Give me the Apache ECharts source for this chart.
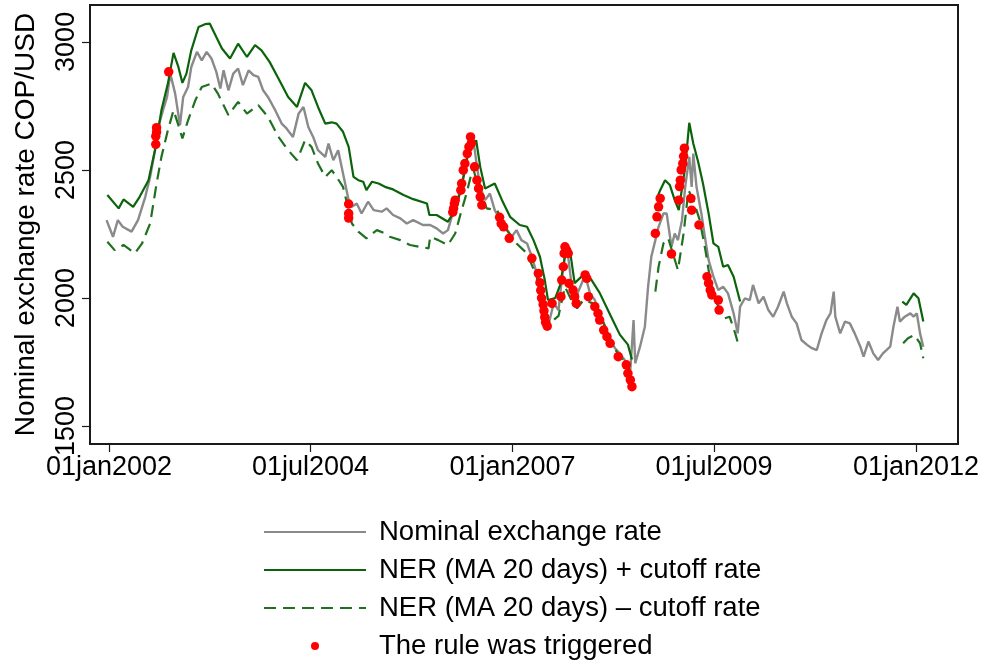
<!DOCTYPE html>
<html>
<head>
<meta charset="utf-8">
<script src="https://cdn.jsdelivr.net/npm/echarts@6/dist/echarts.min.js"></script>
<style>
html,body{margin:0;padding:0;background:#fff;}
#chart{width:984px;height:663px;}
</style>
</head>
<body>
<div id="chart"></div>
<script>
// Dates are decimal years
const nerDates = [2001.97,2002.05,2002.11,2002.17,2002.28,2002.36,2002.45,2002.51,2002.57,2002.61,2002.67,2002.72,2002.76,2002.82,2002.88,2002.92,2002.98,2003.02,2003.09,2003.15,2003.21,2003.27,2003.33,2003.38,2003.42,2003.48,2003.54,2003.60,2003.66,2003.73,2003.79,2003.85,2003.91,2003.97,2004.06,2004.14,2004.20,2004.28,2004.35,2004.41,2004.47,2004.53,2004.59,2004.68,2004.72,2004.78,2004.84,2004.90,2004.97,2005.01,2005.07,2005.13,2005.21,2005.28,2005.38,2005.44,2005.52,2005.61,2005.69,2005.77,2005.89,2005.98,2006.06,2006.14,2006.20,2006.27,2006.33,2006.39,2006.43,2006.47,2006.51,2006.56,2006.60,2006.66,2006.72,2006.78,2006.85,2006.91,2006.99,2007.05,2007.11,2007.18,2007.24,2007.30,2007.36,2007.40,2007.44,2007.51,2007.57,2007.61,2007.65,2007.69,2007.73,2007.77,2007.84,2007.90,2007.96,2008.02,2008.08,2008.15,2008.21,2008.27,2008.33,2008.39,2008.46,2008.50,2008.52,2008.58,2008.64,2008.68,2008.72,2008.77,2008.81,2008.87,2008.91,2008.97,2009.01,2009.05,2009.10,2009.14,2009.19,2009.22,2009.24,2009.28,2009.34,2009.39,2009.43,2009.49,2009.55,2009.61,2009.67,2009.74,2009.79,2009.82,2009.88,2009.94,2009.98,2010.05,2010.11,2010.17,2010.23,2010.29,2010.36,2010.40,2010.46,2010.52,2010.58,2010.65,2010.71,2010.77,2010.83,2010.89,2010.94,2010.98,2011.00,2011.06,2011.12,2011.18,2011.24,2011.31,2011.35,2011.41,2011.47,2011.53,2011.59,2011.68,2011.72,2011.77,2011.80,2011.86,2011.93,2011.97,2012.01,2012.05,2012.09];
const nerValues = [2304,2239,2304,2278,2259,2304,2395,2473,2577,2668,2733,2785,2876,2798,2675,2785,2824,2902,2961,2928,2961,2935,2883,2818,2889,2811,2876,2896,2831,2889,2870,2863,2811,2785,2733,2681,2662,2629,2720,2746,2668,2629,2577,2551,2603,2538,2577,2486,2382,2356,2369,2330,2376,2343,2337,2350,2324,2311,2291,2304,2285,2285,2272,2252,2265,2343,2395,2473,2538,2603,2629,2512,2434,2382,2408,2343,2304,2278,2239,2265,2226,2213,2161,2096,2018,1940,1888,1979,1953,2070,2174,2161,2057,1992,2044,2090,2018,1992,1940,1888,1836,1804,1784,1758,1719,1914,1745,1810,1888,2044,2161,2226,2278,2330,2330,2200,2252,2226,2304,2434,2551,2434,2564,2434,2330,2226,2148,2083,2031,2044,2018,1940,1862,1966,1999,1992,2051,1979,2005,1953,1927,1966,2025,1979,1927,1901,1836,1817,1804,1797,1862,1914,1940,2025,1927,1862,1908,1901,1862,1810,1771,1830,1784,1758,1784,1810,1888,1966,1908,1927,1940,1927,1940,1862,1810];

const upperDates = [2001.98,2002.12,2002.18,2002.30,2002.38,2002.49,2002.57,2002.65,2002.73,2002.80,2002.86,2002.91,2002.96,2003.02,2003.11,2003.19,2003.25,2003.31,2003.40,2003.50,2003.60,2003.71,2003.81,2003.89,2003.99,2004.10,2004.22,2004.33,2004.43,2004.51,2004.59,2004.68,2004.76,2004.82,2004.90,2004.97,2005.03,2005.09,2005.15,2005.19,2005.26,2005.34,2005.42,2005.52,2005.65,2005.77,2005.94,2005.97,2006.06,2006.20,2006.29,2006.37,2006.45,2006.55,2006.60,2006.66,2006.72,2006.78,2006.87,2006.97,2007.09,2007.18,2007.26,2007.34,2007.40,2007.44,2007.53,2007.59,2007.66,2007.71,2007.77,2007.90,2007.98,2008.08,2008.21,2008.33,2008.43,2008.48,2008.62,2008.79,2008.83,2008.89,2008.95,2009.01,2009.06,2009.14,2009.19,2009.24,2009.30,2009.36,2009.43,2009.49,2009.55,2009.61,2009.67,2009.74,2009.82,2010.80,2011.83,2011.88,2011.97,2012.03,2012.09];
const upperValues = [2402,2350,2385,2356,2395,2460,2577,2733,2837,2957,2902,2840,2876,2967,3058,3069,3071,3032,2974,2935,2993,2941,2987,2967,2922,2857,2785,2746,2840,2811,2746,2681,2686,2681,2649,2590,2473,2460,2454,2421,2454,2447,2434,2424,2402,2386,2369,2324,2324,2298,2343,2434,2564,2616,2512,2428,2437,2447,2382,2317,2285,2278,2226,2161,2070,1992,2000,2050,2180,2190,2058,2097,2070,2020,1935,1857,1818,1760,null,2390,2421,2460,2441,2382,2343,2512,2684,2603,2532,2447,2330,2213,2200,2122,2129,2083,1986,null,1986,1973,2018,1999,1908];

const lowerDates = [2001.98,2002.07,2002.18,2002.32,2002.41,2002.51,2002.59,2002.65,2002.73,2002.80,2002.86,2002.91,2002.98,2003.07,2003.15,2003.27,2003.35,2003.48,2003.60,2003.71,2003.85,2003.97,2004.10,2004.22,2004.33,2004.43,2004.51,2004.59,2004.68,2004.76,2004.82,2004.90,2005.01,2005.09,2005.19,2005.32,2005.42,2005.48,2005.61,2005.73,2005.85,2005.96,2005.98,2006.08,2006.20,2006.29,2006.37,2006.43,2006.51,2006.57,2006.68,2006.81,2006.93,2007.05,2007.18,2007.30,2007.38,2007.44,2007.51,2007.57,2007.65,2007.73,2007.80,2007.88,2008.00,2008.13,2008.25,2008.33,2008.42,2008.47,2008.62,2008.77,2008.81,2008.87,2008.93,2009.05,2009.12,2009.18,2009.24,2009.32,2009.39,2009.45,2009.51,2009.63,2009.69,2009.76,2009.81,2010.80,2011.84,2011.90,2011.98,2012.05,2012.09];
const lowerValues = [2220,2187,2207,2174,2213,2291,2447,2551,2655,2733,2675,2623,2694,2772,2824,2837,2798,2714,2766,2720,2753,2707,2629,2577,2538,2616,2590,2525,2473,2499,2473,2434,2291,2259,2233,2265,2252,2239,2226,2207,2200,2194,2239,2226,2207,2252,2343,2408,2510,2440,2350,2343,2265,2213,2174,2083,1966,1901,1914,1930,2044,1992,1960,1992,1979,1901,1810,1771,1745,1700,null,2025,2122,2213,2233,2109,2252,2421,2382,2304,2187,2070,1992,1921,1927,1862,1804,null,1823,1843,1856,1823,1765];

const trigDates = [2002.58,2002.58,2002.59,2002.59,2002.74,2004.97,2004.97,2004.97,2006.26,2006.27,2006.28,2006.29,2006.36,2006.37,2006.39,2006.41,2006.44,2006.46,2006.48,2006.49,2006.53,2006.56,2006.58,2006.60,2006.62,2006.84,2006.86,2006.89,2006.96,2007.24,2007.32,2007.34,2007.35,2007.36,2007.38,2007.39,2007.40,2007.41,2007.43,2007.49,2007.60,2007.61,2007.63,2007.64,2007.65,2007.67,2007.69,2007.70,2007.75,2007.77,2007.79,2007.90,2007.92,2007.94,2008.02,2008.06,2008.08,2008.13,2008.17,2008.21,2008.31,2008.41,2008.43,2008.46,2008.48,2008.77,2008.79,2008.81,2008.83,2008.97,2009.06,2009.07,2009.08,2009.09,2009.11,2009.12,2009.13,2009.21,2009.22,2009.31,2009.41,2009.43,2009.45,2009.47,2009.55,2009.56];
const trigValues = [2600,2632,2648,2665,2883,2367,2330,2312,2335,2350,2368,2382,2421,2447,2499,2525,2564,2590,2629,2604,2512,2460,2428,2395,2363,2315,2290,2278,2233,2155,2096,2060,2030,2000,1975,1950,1925,1905,1890,1979,2005,2070,2122,2174,2200,2187,2174,2057,2031,2005,1979,2090,2077,2005,1966,1940,1914,1875,1849,1823,1771,1739,1706,1680,1654,2252,2317,2356,2389,2172,2382,2435,2460,2500,2525,2553,2585,2389,2343,2285,2083,2058,2031,2012,1992,1953];

const xTickValues = [2002, 2004.4973, 2007, 2009.4959, 2012];
const xTickLabels = ['01jan2002', '01jul2004', '01jan2007', '01jul2009', '01jan2012'];
const yTickValues = [1500, 2000, 2500, 3000];

const pair = (ds, vs) => ds.map((d, i) => [d, vs[i] === null ? '-' : vs[i]]);
const FONT = '"Liberation Sans", Arial, Helvetica, sans-serif';

const chart = echarts.init(document.getElementById('chart'), null, {renderer: 'canvas'});
chart.setOption({
  animation: false,
  backgroundColor: '#ffffff',
  textStyle: {fontFamily: FONT, color: '#000'},
  grid: {left: 90, right: 26, top: 5, bottom: 219, containLabel: false, outerBoundsMode: 'none',
         show: true, borderColor: '#1a1a1a', borderWidth: 2, backgroundColor: '#fff'},
  xAxis: {
    type: 'value', min: 2001.765, max: 2012.52,
    axisLine: {show: false},
    splitLine: {show: false},
    axisTick: {show: true, customValues: xTickValues, length: 8, lineStyle: {color: '#1a1a1a', width: 1.2}},
    axisLabel: {
      customValues: xTickValues, margin: 10, fontSize: 27, color: '#000', fontFamily: FONT,
      formatter: (v) => { const i = xTickValues.findIndex(t => Math.abs(t - v) < 0.01); return i >= 0 ? xTickLabels[i] : ''; }
    }
  },
  yAxis: {
    type: 'value', min: 1430, max: 3144,
    name: 'Nominal exchange rate COP/USD', nameLocation: 'middle', nameGap: 50, nameMoveOverlap: false,
    nameTextStyle: {fontSize: 28, color: '#000', fontFamily: FONT},
    axisLine: {show: false},
    splitLine: {show: false},
    axisTick: {show: true, customValues: yTickValues, length: 8, lineStyle: {color: '#1a1a1a', width: 1.2}},
    axisLabel: {customValues: yTickValues, rotate: 90, margin: 10, fontSize: 27, color: '#000', fontFamily: FONT,
                formatter: (v) => String(Math.round(v))}
  },
  legend: {
    orient: 'vertical', left: 263, top: 518, padding: 0,
    itemWidth: 102, itemHeight: 8, itemGap: 10,
    textStyle: {fontSize: 27.5, color: '#000', fontFamily: FONT, lineHeight: 28, padding: [0, 0, 0, 8]},
    data: [
      {name: 'Nominal exchange rate', itemStyle: {opacity: 0}},
      {name: 'NER (MA 20 days) + cutoff rate', itemStyle: {opacity: 0}},
      {name: 'NER (MA 20 days) \u2013 cutoff rate', itemStyle: {opacity: 0}},
      {name: 'The rule was triggered', icon: 'circle'}
    ]
  },
  series: [
    {name: 'Nominal exchange rate', type: 'line', data: pair(nerDates, nerValues), symbol: 'none',
     lineStyle: {color: '#8a8a8a', width: 2.4}, itemStyle: {color: '#8a8a8a'}, z: 2},
    {name: 'NER (MA 20 days) + cutoff rate', type: 'line', data: pair(upperDates, upperValues), symbol: 'none', connectNulls: false,
     lineStyle: {color: '#0b640b', width: 2.2}, itemStyle: {color: '#0b640b'}, z: 3},
    {name: 'NER (MA 20 days) \u2013 cutoff rate', type: 'line', data: pair(lowerDates, lowerValues), symbol: 'none', connectNulls: false,
     lineStyle: {color: '#1f701f', width: 2.2, type: [12, 7]}, itemStyle: {color: '#1f701f'}, z: 3},
    {name: 'The rule was triggered', type: 'scatter', data: pair(trigDates, trigValues), symbol: 'circle', symbolSize: 9.5,
     itemStyle: {color: '#ff0000', opacity: 1}, z: 5}
  ]
});
</script>
</body>
</html>
